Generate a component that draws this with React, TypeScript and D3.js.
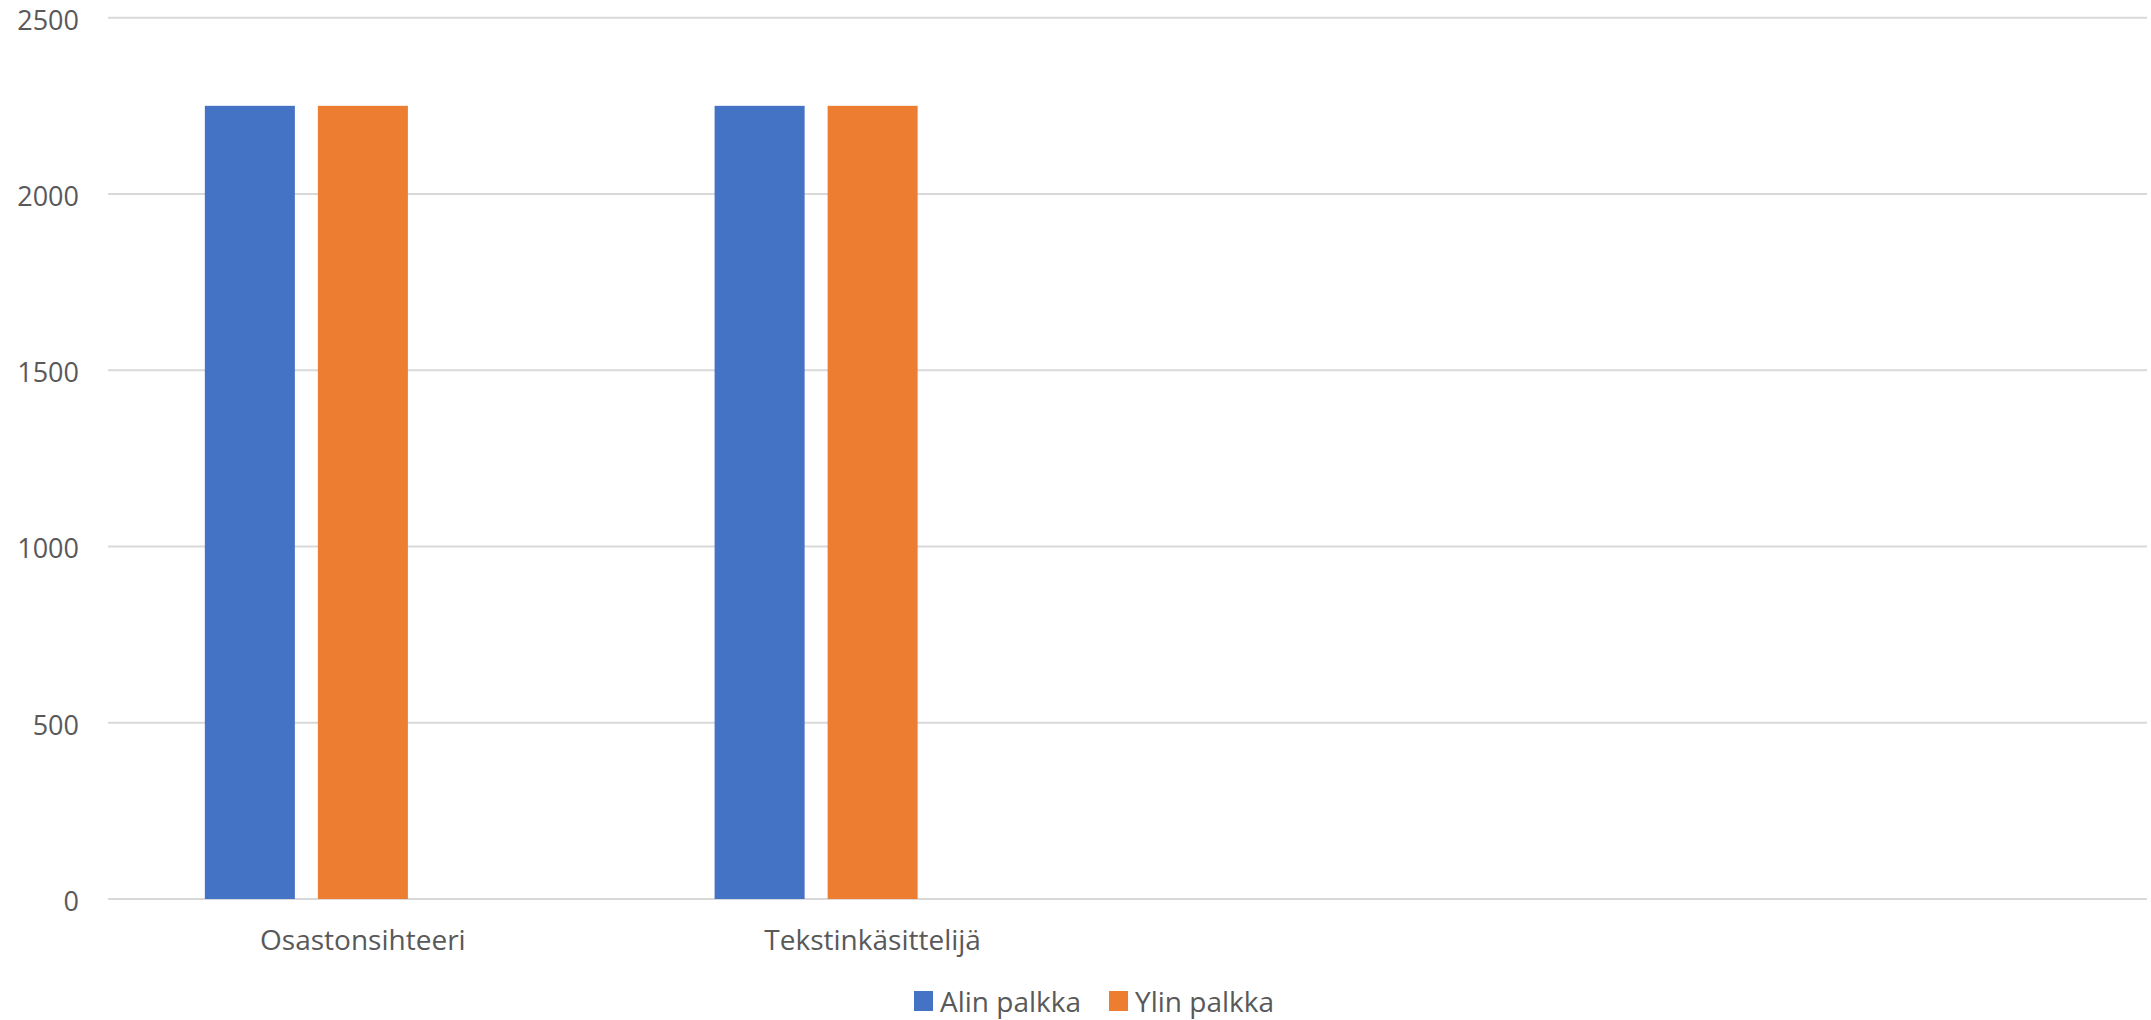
import React, { useEffect, useRef } from "react";
import * as d3 from "d3";

const categories = ["Osastonsihteeri", "Tekstinkäsittelijä", "", ""];
const seriesNames = ["Alin palkka", "Ylin palkka", ""];
const alinPalkka = [2250, 2250, null, null];
const ylinPalkka = [2250, 2250, null, null];
const tyhja = [null, null, null, null];
const yTicks = [0, 500, 1000, 1500, 2000, 2500];
const colors = ["#4472C4", "#ED7D31", "#A5A5A5"];

const W = 2151;
const H = 1020;

export default function App() {
  const ref = useRef<SVGSVGElement | null>(null);

  useEffect(() => {
    document.body.style.margin = "0";
    const svg = d3.select(ref.current);
    svg.selectAll("*").remove();

    const font = "'Open Sans', 'Noto Sans', sans-serif";
    const textColor = "#595959";
    const left = 108, right = 2147, top = 17.7, bottom = 899;

    const y = d3.scaleLinear().domain([0, 2500]).range([bottom, top]);
    const x0 = d3.scaleBand<string>()
      .domain(categories.map((c, i) => String(i)))
      .range([left, right])
      .paddingInner(0)
      .paddingOuter(0);
    const groupW = x0.bandwidth() * 0.62;
    const x1 = d3.scaleBand<string>()
      .domain(seriesNames.map((s, i) => String(i)))
      .range([0, groupW])
      .paddingInner(0.2035)
      .paddingOuter(0);

    // gridlines
    svg.append("g")
      .selectAll("line")
      .data(yTicks)
      .join("line")
      .attr("x1", left)
      .attr("x2", right)
      .attr("y1", (d) => y(d))
      .attr("y2", (d) => y(d))
      .attr("stroke", "#d9d9d9")
      .attr("stroke-width", 2);

    // y labels
    svg.append("g")
      .selectAll("text")
      .data(yTicks)
      .join("text")
      .attr("x", 79)
      .attr("y", (d) => y(d) + 12)
      .attr("text-anchor", "end")
      .attr("font-family", font)
      .attr("font-size", 27)
      .attr("fill", textColor)
      .text((d) => String(d));

    const seriesValues = [alinPalkka, ylinPalkka, tyhja];
    seriesValues.forEach((vals, si) => {
      svg.append("g")
        .selectAll("rect")
        .data(vals.map((v, ci) => ({ v, ci })).filter((d) => d.v != null))
        .join("rect")
        .attr("x", (d) => (x0(String(d.ci)) as number) + (x0.bandwidth() - groupW) / 2 + (x1(String(si)) as number))
        .attr("width", x1.bandwidth())
        .attr("y", (d) => y(d.v as number))
        .attr("height", (d) => y(0) - y(d.v as number))
        .attr("fill", colors[si]);
    });

    // category labels
    svg.append("g")
      .selectAll("text")
      .data(categories.map((c, i) => ({ c, i })))
      .join("text")
      .attr("x", (d) => (x0(String(d.i)) as number) + x0.bandwidth() / 2)
      .attr("y", 950)
      .attr("text-anchor", "middle")
      .attr("font-family", font)
      .attr("font-size", 28)
      .attr("fill", textColor)
      .text((d) => d.c);

    // legend
    const legend = svg.append("g");
    let lx = 914;
    seriesNames.forEach((name, i) => {
      if (!name) return;
      legend.append("rect")
        .attr("x", lx)
        .attr("y", 991)
        .attr("width", 19)
        .attr("height", 20)
        .attr("fill", colors[i]);
      const t = legend.append("text")
        .attr("x", lx + 26)
        .attr("y", 1012)
        .attr("font-family", font)
        .attr("font-size", 28)
        .attr("fill", textColor)
        .text(name);
      const tw = (t.node() as SVGTextElement).getComputedTextLength();
      lx = lx + 26 + tw + 28;
    });
  }, []);

  return <svg ref={ref} width={W} height={H} style={{ display: "block", background: "#fff" }} />;
}
